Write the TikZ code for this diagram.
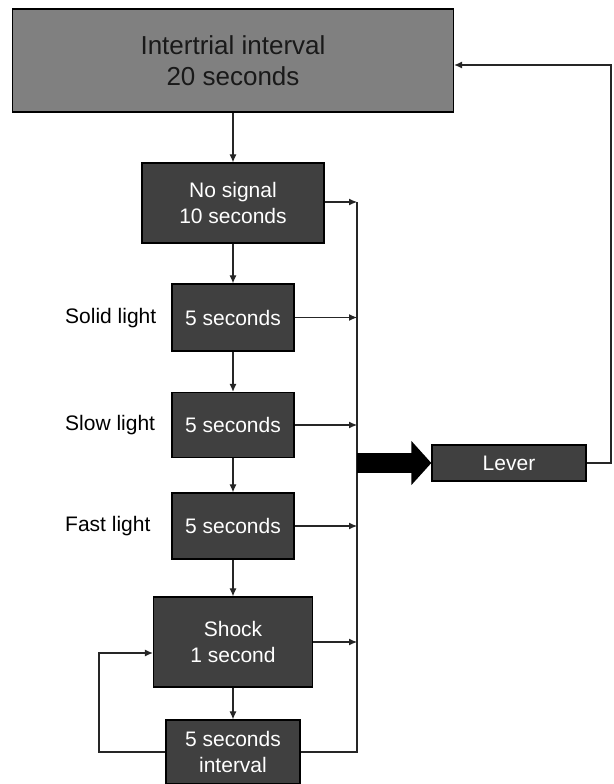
\documentclass[tikz,border=0pt]{standalone}
\usepackage{fontspec}
\setmainfont{Liberation Sans}
\usetikzlibrary{arrows.meta}
\definecolor{boxdark}{HTML}{404040}
\definecolor{boxgray}{HTML}{808080}
\begin{document}
\begin{tikzpicture}[x=1pt,y=-1pt,
    stage/.style={draw=black,line width=1.3pt,fill=boxdark,text=white,align=center,
      inner sep=0pt,font=\fontsize{21}{26}\selectfont},
    sidetext/.style={anchor=west,inner sep=0pt,font=\fontsize{21}{26}\selectfont},
    link/.style={draw=black!85,line width=1.1pt,-{Latex[length=8pt,width=7pt]}},
    wire/.style={draw=black!85,line width=1.1pt}]
  \useasboundingbox (0,0) rectangle (613,784);
  % the boxes
  \node[stage,fill=boxgray,text=black!90,minimum width=441pt,minimum height=103pt,
    font=\fontsize{26}{31}\selectfont] (iti) at (233,60.5) {Intertrial interval\\20 seconds};
  \node[stage,minimum width=182pt,minimum height=80pt] (nosig) at (233,203) {No signal\\10 seconds};
  \node[stage,minimum width=122pt,minimum height=67pt] (solid) at (233,317.5) {5 seconds};
  \node[stage,minimum width=122pt,minimum height=65pt] (slow)  at (233,425) {5 seconds};
  \node[stage,minimum width=122pt,minimum height=66pt] (fast)  at (233,526) {5 seconds};
  \node[stage,minimum width=159pt,minimum height=90pt] (shock) at (233,642) {Shock\\1 second};
  \node[stage,minimum width=134pt,minimum height=64pt] (pause) at (233,752) {5 seconds\\interval};
  \node[stage,minimum width=154pt,minimum height=36pt] (lever) at (509,463) {Lever};
  % the names of the lights
  \node[sidetext] (solidname) at (65,318) {Solid light};
  \node[sidetext] (slowname)  at (65,425) {Slow light};
  \node[sidetext] (fastname)  at (65,526) {Fast light};
  % coordinates for the lines
  \coordinate (bustop) at (357,202);
  \coordinate (busbot) at (357,752);
  \coordinate (busmid) at (357,463);
  \coordinate (loopbot) at (99,752);
  \coordinate (looptop) at (99,653);
  \coordinate (backbot) at (611,463);
  \coordinate (backtop) at (611,65);
  % down the chain
  \draw[link] (iti)   -- (nosig);
  \draw[link] (nosig) -- (solid);
  \draw[link] (solid) -- (slow);
  \draw[link] (slow)  -- (fast);
  \draw[link] (fast)  -- (shock);
  \draw[link] (shock) -- (pause);
  % into the bus line
  \draw[link] (nosig.east |- bustop) -- (bustop);
  \draw[link] (solid.east) -- (solid.east -| bustop);
  \draw[link] (slow.east)  -- (slow.east -| bustop);
  \draw[link] (fast.east)  -- (fast.east -| bustop);
  \draw[link] (shock.east) -- (shock.east -| bustop);
  \draw[wire] (pause.east) -- (busbot) -- (bustop);
  % shock loop
  \draw[link] (pause.west |- loopbot) -- (loopbot) -- (looptop) -- (shock.west |- looptop);
  % to the lever and back
  \draw[line width=20pt,-{Triangle[length=20pt,width=43pt]}] (busmid) -- (lever.west);
  \draw[link] (lever.east) -- (backbot) -- (backtop) -- (iti.east |- backtop);
\end{tikzpicture}
\end{document}
